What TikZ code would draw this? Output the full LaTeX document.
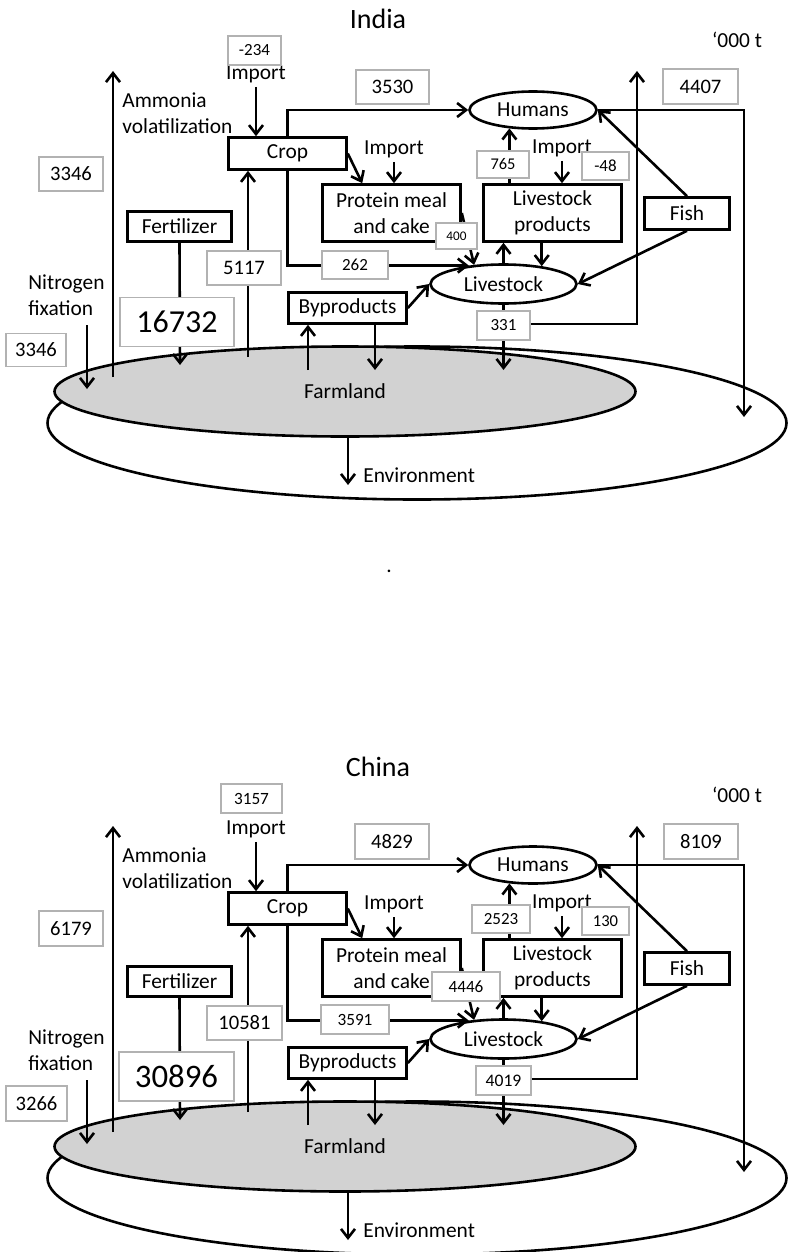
\documentclass[tikz,border=0pt]{standalone}
\usepackage{fontspec}
\setmainfont{Carlito}
\usetikzlibrary{arrows.meta,shapes.geometric,calc}
\colorlet{farmgray}{gray!35}
\colorlet{valframe}{gray!60}
\newcommand{\fsz}[1]{\fontsize{#1}{13}\selectfont}
% common part of both nitrogen flow charts
\newcommand{\nflowsketch}{%
  \node[pool,fill=white,minimum width=369.5pt,minimum height=76.5pt] (env) at (417,423) {};
  \node[pool,fill=farmgray,minimum width=290.5pt,minimum height=45pt] (farm) at (345,391.5) {Farmland};
  \node[lbl,anchor=west] (envlbl) at (363,475) {Environment};
  \node[box,minimum width=59pt,minimum height=16pt] (crop) at (287.5,153.5) {Crop};
  \node[box,minimum width=52pt,minimum height=15pt] (fert) at (179.5,226.5) {Fertilizer};
  \node[box,minimum width=69pt,minimum height=28.5pt] (meal) at (391.5,213) {Protein meal\\and cake};
  \node[box,minimum width=69pt,minimum height=28.5pt] (prod) at (552.5,213) {Livestock\\products};
  \node[box,minimum width=42.5pt,minimum height=16pt] (fish) at (687,213.5) {Fish};
  \node[box,minimum width=59pt,minimum height=15.5pt] (byprod) at (347.5,308) {Byproducts};
  \node[pool,minimum width=63.5pt,minimum height=18.5pt] (humans) at (533,110) {Humans};
  \node[pool,minimum width=73pt,minimum height=19.5pt] (stock) at (503.5,284) {Livestock};
  \node[lbl] (impcrop) at (256,74) {Import};
  \node[lbl] (impmeal) at (394,149) {Import};
  \node[lbl] (impprod) at (562,148) {Import};
  \node[lbl,anchor=west] (nh3) at (122,113) {Ammonia\\volatilization};
  \node[lbl,anchor=west] (nfix) at (28,295) {Nitrogen\\fixation};
  \node[lbl] (unit) at (737,40) {`000 t};
  \coordinate (nh3top) at (113,71);
  \coordinate (nh3foot) at (113,377);
  \coordinate (nfixtop) at (87,325);
  \coordinate (nfixin) at (87,389);
  \coordinate (fertin) at (180,365);
  \coordinate (cropup) at (248,357);
  \coordinate (byup) at (308,370);
  \coordinate (bydown) at (375,370);
  \coordinate (stockin) at (503.5,370);
  \coordinate (stocknh3) at (503.5,324);
  \coordinate (nh3right) at (637,71);
  \coordinate (humout) at (744,417);
  \coordinate (envin) at (348,485);
  \draw[flow] (nh3foot) -- (nh3top);
  \draw[flow] (nfixtop) -- (nfixin);
  \draw[flow] ([yshift=-2pt]impcrop.south) -- (impcrop.south |- crop.north);
  \draw[flow] (fert.south) -- (fertin);
  \draw[flow] (cropup) -- (cropup |- crop.south);
  \draw[flow] (crop.north) |- (humans.west);
  \draw[flow] (crop.east) -- ([xshift=20.5pt]meal.north west);
  \draw[flow] ([yshift=-2pt]impmeal.south) -- (impmeal.south |- meal.north);
  \draw[flow] (crop.south) |- (stock.152);
  \draw[flow] (meal.east) -- (stock.147);
  \draw[flow] (stock.north) -- (stock.north |- prod.south);
  \draw[flow] (prod.south -| stock.25) -- (stock.25);
  \draw[flow] (prod.north -| humans.218) -- (humans.218);
  \draw[flow] ([yshift=-2pt]impprod.south) -- (impprod.south |- prod.north);
  \draw[flow] (fish.north) -- (humans.east);
  \draw[flow] (fish.south) -- (stock.east);
  \draw[flow] (byprod.east) -- (stock.west);
  \draw[flow] (byup) -- (byup |- byprod.south);
  \draw[flow] (byprod.south -| bydown) -- (bydown);
  \draw[flow] (stock.south) -- (stockin);
  \draw[flow] (stocknh3) -| (nh3right);
  \draw[flow] (humans.east) -| (humout);
  \draw[flow] (farm.south -| envin) -- (envin);
}

\begin{document}
\begin{tikzpicture}[x=0.5pt,y=-0.5pt,font=\fsz{10.7},
  box/.style={draw,line width=1.3pt,inner sep=0pt,align=center},
  pool/.style={ellipse,draw,line width=1.3pt,inner sep=0pt},
  lbl/.style={inner sep=0pt,align=left},
  val/.style 2 args={draw=valframe,fill=white,line width=0.6pt,inner sep=0pt,
    minimum width=#1pt,minimum height=#2pt,font=\fsz{10.3}},
  flow/.style={line width=1.3pt,-{Straight Barb[length=4.5pt,width=7pt]}}]
\useasboundingbox (0,0) rectangle (789,1252);

\node[font=\fsz{14}] (india) at (378,19) {India};
\begin{scope}[name prefix=in-]
\nflowsketch
\node[val={26.5}{14.5},font=\fsz{8.5}] (vimcrop) at (254.5,50.5) {-234};
\node[val={36.5}{17}] (vfood) at (392.5,87) {3530};
\node[val={37.5}{17.5}] (vloss) at (700.5,86.5) {4407};
\node[val={32}{17}] (vnh3) at (71,174) {3346};
\node[val={26}{13.5},font=\fsz{8.2}] (vprodfood) at (503,164.5) {765};
\node[val={23.5}{14},font=\fsz{8.5}] (vimprod) at (605.5,166) {-48};
\node[val={20.5}{13},font=\fsz{6.6}] (vmeal) at (456.5,236) {400};
\node[val={33}{14},font=\fsz{8.5}] (vfeed) at (355,265) {262};
\node[val={37}{17}] (vharv) at (244,268) {5117};
\node[val={57}{24.5},font=\fsz{16}] (vfert) at (177,322) {16732};
\node[val={30}{16.5}] (vnfix) at (36,350) {3346};
\node[val={26.5}{14.5},font=\fsz{8.5}] (vmanure) at (503.5,325.5) {331};
\end{scope}

\node (gap) at (389,571) {.};

\node[font=\fsz{14}] (china) at (378,767) {China};
\begin{scope}[shift={(0,755)},name prefix=cn-]
\nflowsketch
\node[val={30.5}{14.5},font=\fsz{8.6}] (vimcrop) at (251.5,43.5) {3157};
\node[val={37}{17.5}] (vfood) at (392,86.5) {4829};
\node[val={37}{17.5}] (vloss) at (701,86.5) {8109};
\node[val={32}{17.5}] (vnh3) at (71,173.5) {6179};
\node[val={29}{14},font=\fsz{8.5}] (vprodfood) at (501,164) {2523};
\node[val={23.5}{14},font=\fsz{8.3}] (vimprod) at (605.5,166) {130};
\node[val={34}{14.5},font=\fsz{8.6}] (vmeal) at (466,231.5) {4446};
\node[val={34}{14.5},font=\fsz{8.6}] (vfeed) at (355,264.5) {3591};
\node[val={37.5}{17}] (vharv) at (244.5,268) {10581};
\node[val={57.5}{24.5},font=\fsz{16.4}] (vfert) at (176.5,321.5) {30896};
\node[val={30.5}{17.5}] (vnfix) at (36.5,348.5) {3266};
\node[val={27.5}{14.5},font=\fsz{8.8}] (vmanure) at (503.5,325.5) {4019};
\end{scope}
\end{tikzpicture}
\end{document}
